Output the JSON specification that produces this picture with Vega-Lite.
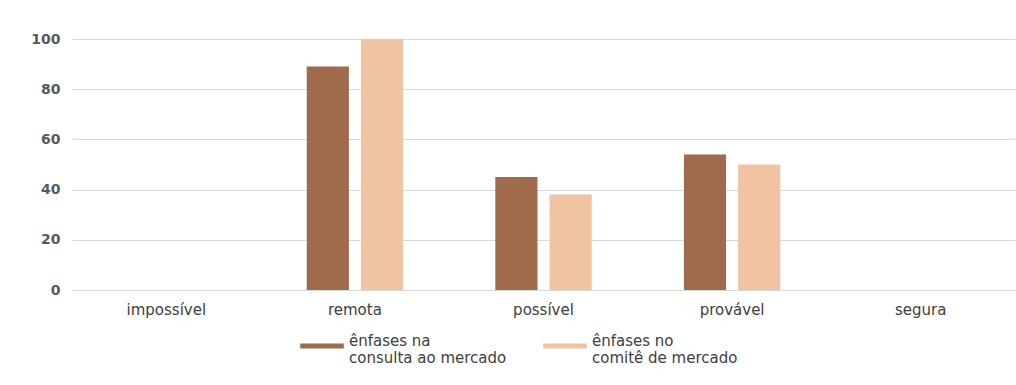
{
  "$schema": "https://vega.github.io/schema/vega-lite/v6.json",
  "width": 943,
  "height": 251,
  "autosize": {"type": "none"},
  "padding": {"left": 72, "top": 39, "right": 1, "bottom": 95},
  "background": "#ffffff",
  "config": {
    "view": {"stroke": null},
    "font": "DejaVu Sans"
  },
  "data": {
    "values": [
      {"cat": "impossível", "serie": "ênfases na|consulta ao mercado", "valor": 0},
      {"cat": "impossível", "serie": "ênfases no|comitê de mercado", "valor": 0},
      {"cat": "remota", "serie": "ênfases na|consulta ao mercado", "valor": 89},
      {"cat": "remota", "serie": "ênfases no|comitê de mercado", "valor": 100},
      {"cat": "possível", "serie": "ênfases na|consulta ao mercado", "valor": 45},
      {"cat": "possível", "serie": "ênfases no|comitê de mercado", "valor": 38},
      {"cat": "provável", "serie": "ênfases na|consulta ao mercado", "valor": 54},
      {"cat": "provável", "serie": "ênfases no|comitê de mercado", "valor": 50},
      {"cat": "segura", "serie": "ênfases na|consulta ao mercado", "valor": 0},
      {"cat": "segura", "serie": "ênfases no|comitê de mercado", "valor": 0}
    ]
  },
  "mark": {"type": "bar"},
  "encoding": {
    "x": {
      "field": "cat",
      "type": "nominal",
      "sort": ["impossível", "remota", "possível", "provável", "segura"],
      "scale": {"paddingInner": 0, "paddingOuter": 0},
      "axis": {
        "title": null,
        "labelAngle": 0,
        "ticks": false,
        "domain": false,
        "labelPadding": 12,
        "labelFontSize": 15,
        "labelColor": "#404040"
      }
    },
    "xOffset": {
      "field": "serie",
      "type": "nominal",
      "scale": {"paddingInner": 0.222, "paddingOuter": 0.851}
    },
    "y": {
      "field": "valor",
      "type": "quantitative",
      "scale": {"domain": [0, 100]},
      "axis": {
        "title": null,
        "values": [0, 20, 40, 60, 80, 100],
        "ticks": false,
        "domain": false,
        "labelPadding": 12,
        "labelFontSize": 14,
        "labelFontWeight": "bold",
        "labelColor": "#595959",
        "gridColor": "#d9d9d9",
        "gridWidth": 1
      }
    },
    "color": {
      "field": "serie",
      "type": "nominal",
      "scale": {"range": ["#a06a4c", "#f0c3a2"]},
      "legend": {
        "title": null,
        "orient": "none",
        "legendX": 228,
        "legendY": 285,
        "direction": "horizontal",
        "symbolType": "M-1,-0.12H1V0.12H-1Z",
        "symbolSize": 1900,
        "symbolStrokeWidth": 0,
        "labelExpr": "split(datum.label, '|')",
        "labelFontSize": 15,
        "labelLineHeight": 19,
        "labelColor": "#404040",
        "labelOffset": 5,
        "labelBaseline": "alphabetic",
        "columnPadding": 36
      }
    }
  }
}
